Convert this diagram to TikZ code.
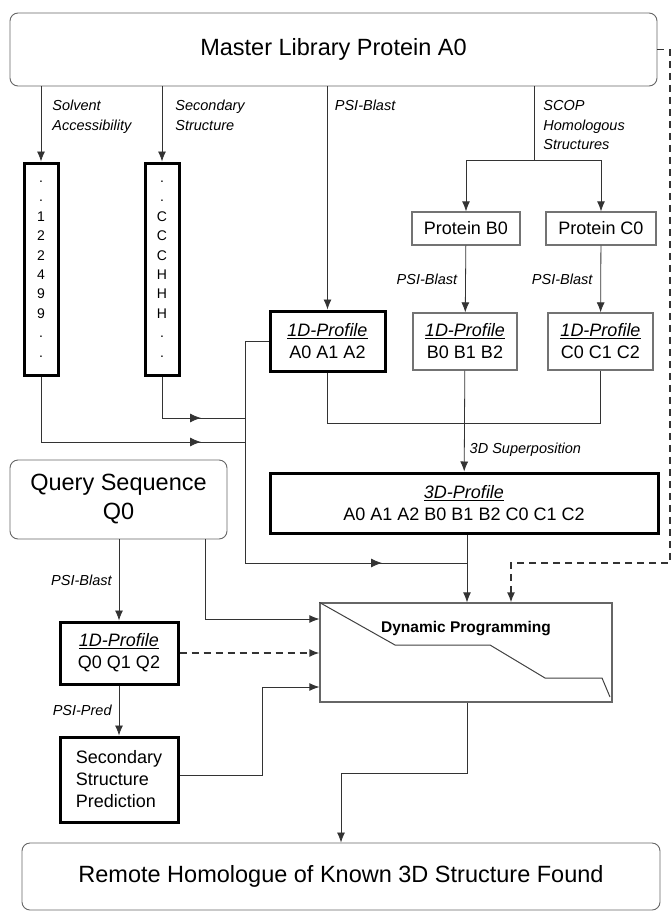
\documentclass[tikz,border=0pt]{standalone}
\usepackage{fontspec}
\setmainfont{Liberation Sans}
\setsansfont{Liberation Sans}
\usetikzlibrary{arrows.meta,calc,positioning}
\newcommand{\profname}[1]{\underline{\textit{#1}}}

\begin{document}
\begin{tikzpicture}[
    x=1pt, y=-1pt,
    >={Latex[length=10pt,width=8pt]},
    font=\sffamily,
    line/.style={draw=black!80, line width=0.8pt},
    midtip/.style={-{Latex[length=11pt,width=9pt]}},
    big/.style={
      draw=black!60,
      rounded corners=8pt,
      line width=0.9pt,
      align=center,
      inner sep=0pt,
      font=\sffamily\fontsize{23.5}{29}\selectfont,
    },
    heavy/.style={
      draw=black,
      line width=3pt,
      align=center,
      inner sep=0pt,
      font=\sffamily\fontsize{18}{22}\selectfont,
    },
    light/.style={
      draw=black!55,
      line width=1.3pt,
      align=center,
      inner sep=0pt,
      font=\sffamily\fontsize{18}{22}\selectfont,
    },
    colbox/.style={
      heavy,
      minimum width=34pt,
      minimum height=212pt,
      font=\sffamily\fontsize{14}{19.4}\selectfont,
    },
    lbl/.style={
      font=\sffamily\itshape\fontsize{14.5}{19.5}\selectfont,
      align=left,
      inner sep=0pt,
    },
  ]
    \useasboundingbox (0,0) rectangle (671,913);

    % boxes
    \node[big, minimum width=647pt, minimum height=73pt] (master) at (333.5,49.5) {Master Library Protein A0};
    \node[colbox] (solv) at (41,269) {.\\.\\1\\2\\2\\4\\9\\9\\.\\.};
    \node[colbox] (sstr) at (162,269) {.\\.\\C\\C\\C\\H\\H\\H\\.\\.};
    \node[light, minimum width=108pt, minimum height=33pt] (pB) at (466,228.5) {Protein B0};
    \node[light, minimum width=110pt, minimum height=33pt] (pC) at (601,228.5) {Protein C0};
    \node[heavy, minimum width=115pt, minimum height=60pt] (profA) at (327.5,341) {\profname{1D-Profile}\\A0 A1 A2};
    \node[light, minimum width=104pt, minimum height=57pt] (profB) at (465,341.5) {\profname{1D-Profile}\\B0 B1 B2};
    \node[light, minimum width=105pt, minimum height=57pt] (profC) at (600.5,341.5) {\profname{1D-Profile}\\C0 C1 C2};
    \node[heavy, minimum width=388pt, minimum height=60pt] (prof3d) at (464,503) {\profname{3D-Profile}\\A0 A1 A2 B0 B1 B2 C0 C1 C2};
    \node[big, minimum width=217pt, minimum height=79pt] (query) at (118.5,499.5) {Query Sequence\\Q0};
    \node[heavy, minimum width=118pt, minimum height=62pt] (profQ) at (119,653) {\profname{1D-Profile}\\Q0 Q1 Q2};
    \node[heavy, minimum width=118pt, minimum height=85pt, align=left] (ssp) at (119,779.5) {Secondary\\Structure\\Prediction};
    \node[draw=black!60, line width=1.3pt, minimum width=292pt, minimum height=99pt] (dp) at (466,652.5) {};
    \node[font=\sffamily\bfseries\fontsize{15.5}{18}\selectfont] (dptxt) at (466,629) {Dynamic Programming};
    \node[big, minimum width=638pt, minimum height=67pt] (remote) at (341,876.5) {Remote Homologue of Known 3D Structure Found};

    % alignment path in the DP box
    \draw[draw=black!75, line width=1pt]
      (dp.north west) -- (395,645) -- (490,645) -- (545,678) -- (602,678) -- (610,697);

    % helper points
    \coordinate (fork) at (534,160);
    \coordinate (bus) at (245,337);
    \coordinate (join) at (467,563);
    \coordinate (arrS) at (201,442);
    \coordinate (arrT) at (201,418);
    \coordinate (arrB) at (382,563);

    % from the master protein
    \draw[line,->] (solv.north |- master.south) -- node[lbl, anchor=north west, pos=0.18, xshift=11pt] {Solvent\\Accessibility} (solv.north);
    \draw[line,->] (sstr.north |- master.south) -- node[lbl, anchor=north west, pos=0.18, xshift=13pt] {Secondary\\Structure} (sstr.north);
    \draw[line,->] (profA.north |- master.south) -- node[lbl, anchor=north west, pos=0.06, xshift=7pt] {PSI-Blast} (profA.north);
    \draw[line] (fork |- master.south) -- node[lbl, anchor=north west, pos=0.19, xshift=9pt] {SCOP\\Homologous\\Structures} (fork);
    \draw[line,->] (fork) -| (pB.north);
    \draw[line,->] (fork) -| (pC.north);
    \draw[line,->] (pB) -- node[lbl, anchor=east, xshift=-8pt] {PSI-Blast} (profB);
    \draw[line,->] (pC) -- node[lbl, anchor=east, xshift=-8pt] {PSI-Blast} (profC);
    \draw[line,->] (profB) -- node[lbl, anchor=west, pos=0.78, xshift=5pt] {3D Superposition} (prof3d);
    \draw[line] (profA.south) -- ++(0,51) -| (profC.south);

    % column outputs to the bus
    \draw[line] (solv.south) |- (bus |- arrS);
    \draw[line,midtip] ($(arrS)+(-12,0)$) -- (arrS);
    \draw[line] (sstr.south) |- (bus |- arrT);
    \draw[line,midtip] ($(arrT)+(-12,0)$) -- (arrT);
    \draw[line] (profA.west) -- (bus |- profA.west) -- (bus |- join) -- (join);
    \draw[line,midtip] ($(arrB)+(-12,0)$) -- (arrB);
    \draw[line,->] (prof3d.south -| join) -- (dp.north -| join);

    % dashed link from the master protein
    \draw[line, dashed, line width=1.3pt, dash pattern=on 7pt off 5pt, ->]
      (master.east) -- (670,49.5) -- (670,563) -- (511,563) -- (dp.north -| 511,0);

    % query side
    \draw[line,->] (query.south -| profQ.north) -- node[lbl, anchor=east, pos=0.5, xshift=-7pt] {PSI-Blast} (profQ.north);
    \draw[line,->] (query.south -| 205,0) |- (dp.west |- 0,619);
    \draw[line, dashed, line width=1.5pt, dash pattern=on 7pt off 5pt, ->] (profQ.east) -- (dp.west |- profQ.east);
    \draw[line,->] (profQ.south) -- node[lbl, anchor=east, pos=0.5, xshift=-7pt] {PSI-Pred} (ssp.north);
    \draw[line,->] (ssp.east |- 0,775) -| (262,687) -- (dp.west |- 0,687);

    % result
    \draw[line,->] (dp.south -| join) |- (341,773) -- (remote.north -| 341,0);
  \end{tikzpicture}
\end{document}
